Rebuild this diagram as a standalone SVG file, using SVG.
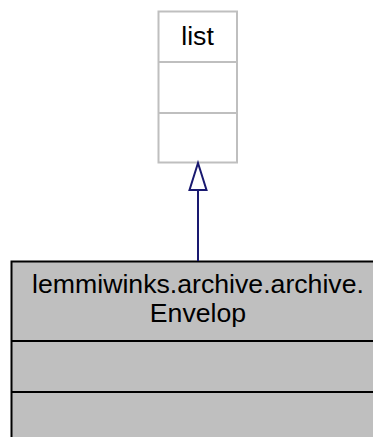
<svg xmlns="http://www.w3.org/2000/svg" width="373" height="437" viewBox="0 0 373 437">
<style>
.t{font-family:"Liberation Sans",Arial,sans-serif;font-size:26.67px;fill:#000;text-anchor:middle}
.base rect,.base line{stroke:#bfbfbf;stroke-width:2;fill:#fff}
.cls rect,.cls line{stroke:#000;stroke-width:2;fill:#bfbfbf}
.edge{stroke:#191970;stroke-width:2;fill:none}
</style>
<rect width="373" height="437" fill="#fff"/>
<g id="node_list" class="base">
<rect x="158.5" y="11.5" width="78.5" height="151"/>
<line x1="158.5" y1="62" x2="237" y2="62"/>
<line x1="158.5" y1="113" x2="237" y2="113"/>
<text class="t" x="197.5" y="45">list</text>
</g>
<g id="node_envelop" class="cls">
<rect x="11.5" y="261.5" width="370" height="190"/>
<line x1="11.5" y1="341" x2="381.5" y2="341"/>
<line x1="11.5" y1="392" x2="381.5" y2="392"/>
<text class="t" x="198" y="293">lemmiwinks.archive.archive.</text>
<text class="t" x="198" y="321.5">Envelop</text>
</g>
<g id="connectors">
<line class="edge" x1="198" y1="190" x2="198" y2="261"/>
<polygon class="edge" points="198,163 189.5,190 206.5,190" fill="#fff"/>
</g>
</svg>
